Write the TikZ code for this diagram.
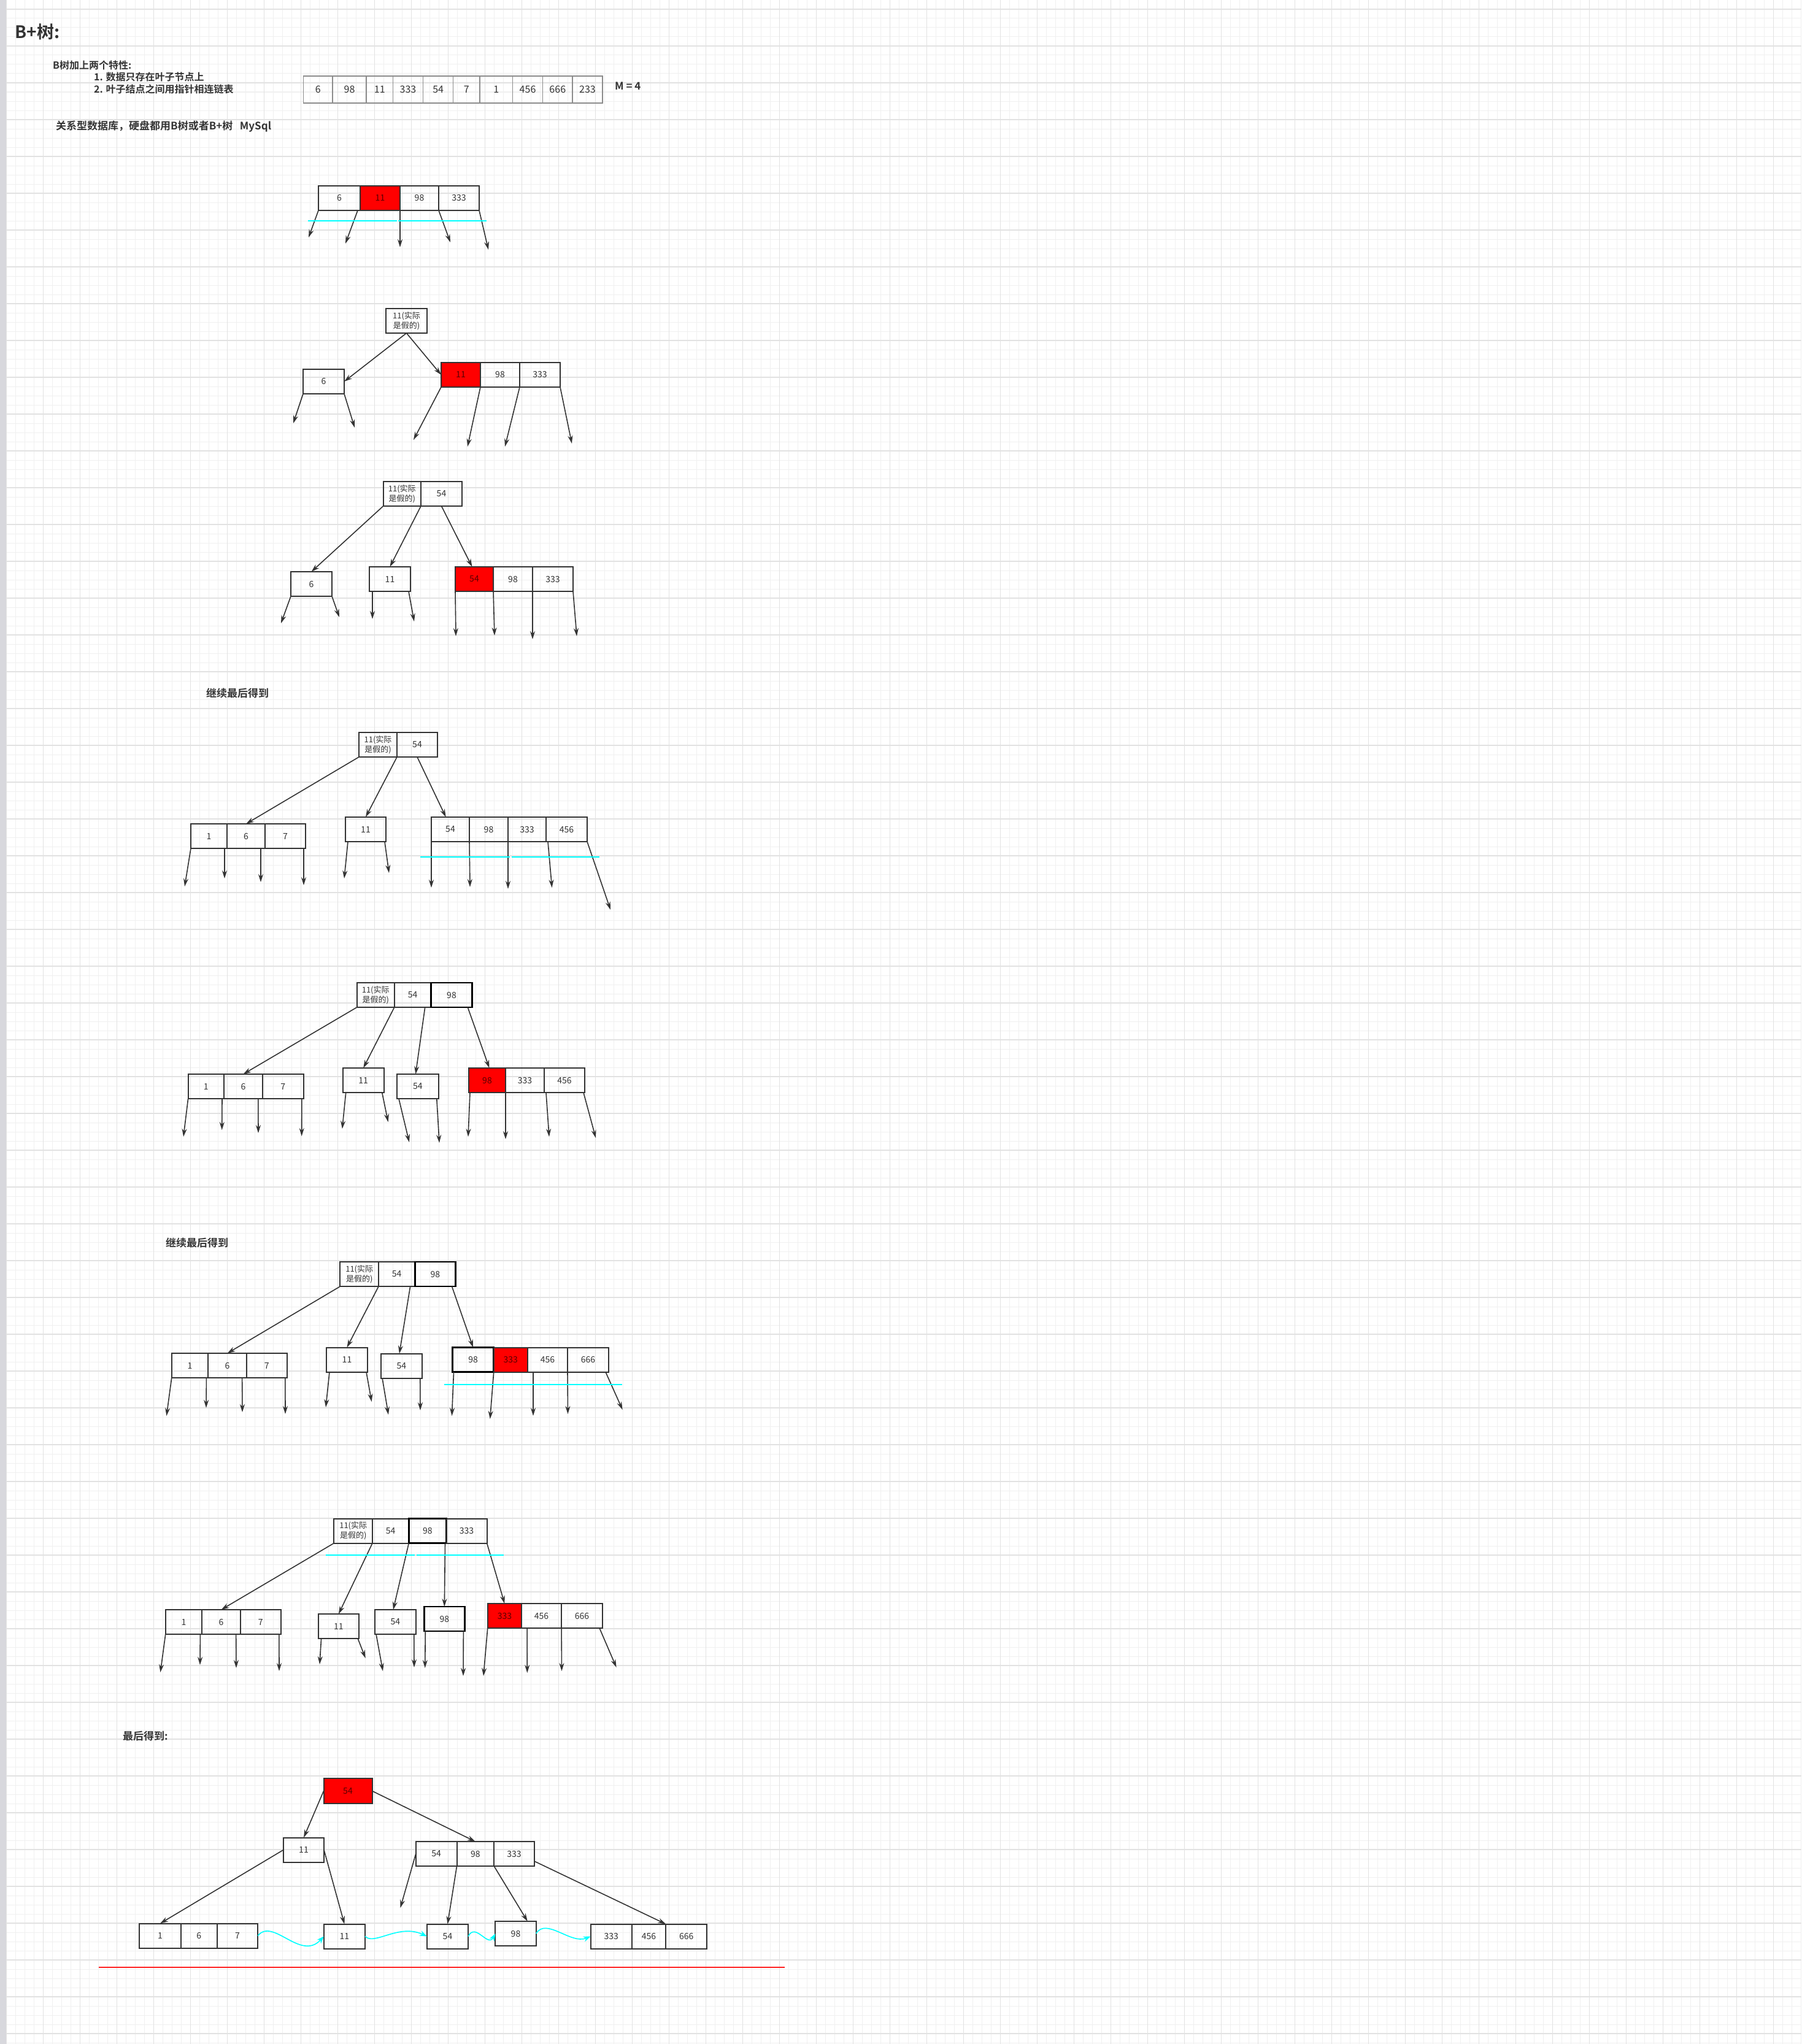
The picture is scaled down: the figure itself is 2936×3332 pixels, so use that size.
\documentclass[tikz,border=0pt]{standalone}
\usepackage{fontspec}
\setmainfont{Noto Sans CJK SC}[BoldFont={Noto Sans CJK SC Bold}]
\usetikzlibrary{arrows.meta,positioning,calc}
\definecolor{linec}{HTML}{333333}
\definecolor{txtc}{HTML}{333333}
\definecolor{hotred}{HTML}{FF0000}
\definecolor{cyanl}{HTML}{00FFFF}
\definecolor{gridmin}{HTML}{F0F0F0}
\definecolor{gridmaj}{HTML}{E2E2E2}
\definecolor{strip}{HTML}{D8D8DD}
\definecolor{arrc}{HTML}{8C8C8C}
\definecolor{redline}{HTML}{FF2020}

\begin{document}
\begin{tikzpicture}[x=1pt,y=-1pt,
  cell/.style={draw=linec,line width=2pt,minimum height=40,inner sep=0pt,outer sep=0pt,text=txtc,font=\fontsize{14}{16}\selectfont},
  hot/.style={fill=hotred,text=red!35!black},
  blk/.style={draw=black,line width=2.6pt},
  two/.style={align=center,font=\fontsize{13}{16}\selectfont},
  arr/.style={draw=arrc,line width=1.3pt,minimum height=44,inner sep=0pt,outer sep=0pt,text=txtc,font=\fontsize{16}{18}\selectfont},
  note/.style={anchor=west,inner sep=0pt,text=txtc,font=\bfseries\fontsize{17}{20}\selectfont},
  ptr/.style={draw=linec,line width=1.6pt,-{Stealth[length=13pt,width=8pt]}},
  scan/.style={draw=cyanl,line width=1.6pt},
  wave/.style={draw=cyanl,line width=1.6pt,-{Stealth[length=12pt,width=9pt]}}]
\useasboundingbox (0,0) rectangle (2936,3332);
\fill[white] (0,0) rectangle (2936,3332);
\fill[strip] (0,0) rectangle (10.7,3332);
% grid
\foreach \gx in {10.7,25.7,...,2936} \draw[gridmin,line width=1pt] (\gx,0) -- (\gx,3332);
\foreach \gy in {0,15,...,3332} \draw[gridmin,line width=1pt] (10.7,\gy) -- (2936,\gy);
\foreach \gx in {10.7,70.7,...,2936} \draw[gridmaj,line width=1.4pt] (\gx,0) -- (\gx,3332);
\foreach \gy in {15,75,...,3332} \draw[gridmaj,line width=1.4pt] (10.7,\gy) -- (2936,\gy);

% notes
\node[note,font=\bfseries\fontsize{28}{32}\selectfont] (title) at (24.5,52) {B+树:};
\node[note,font=\bfseries\fontsize{16}{19}\selectfont] (feat) at (86,106.5) {B树加上两个特性:};
\node[note,font=\bfseries\fontsize{16}{19}\selectfont] (feat1) at (153,125.5) {1. 数据只存在叶子节点上};
\node[note,font=\bfseries\fontsize{16}{19}\selectfont] (feat2) at (153,145.5) {2. 叶子结点之间用指针相连链表};
\node[note] (db) at (91,206.5) {关系型数据库，硬盘都用B树或者B+树~~~MySql};
\node[note] (order) at (1002,140) {M = 4};

% input keys
\node[arr,minimum width=47.5] (m1) at (518.25,146) {6};
\node[arr,minimum width=55,right=0pt of m1] (m2) {98};
\node[arr,minimum width=43.5,right=0pt of m2] (m3) {11};
\node[arr,minimum width=49.1,right=0pt of m3] (m4) {333};
\node[arr,minimum width=49.1,right=0pt of m4] (m5) {54};
\node[arr,minimum width=43.3,right=0pt of m5] (m6) {7};
\node[arr,minimum width=53.5,right=0pt of m6] (m7) {1};
\node[arr,minimum width=49.1,right=0pt of m7] (m8) {456};
\node[arr,minimum width=48.4,right=0pt of m8] (m9) {666};
\node[arr,minimum width=49,right=0pt of m9] (m10) {233};

% step 1
\node[cell,minimum width=68] (t1c1) at (553,323) {6};
\node[cell,hot,minimum width=65,right=0pt of t1c1] (t1c2) {11};
\node[cell,minimum width=63,right=0pt of t1c2] (t1c3) {98};
\node[cell,minimum width=66,right=0pt of t1c3] (t1c4) {333};
\coordinate (t1p1) at (503,387); \draw[ptr] (t1c1.south west) -- (t1p1);
\coordinate (t1p2) at (563,397); \draw[ptr] ([xshift=-4]t1c2.south west) -- (t1p2);
\coordinate (t1p3) at (652,403); \draw[ptr] (t1c3.south west) -- (t1p3);
\coordinate (t1p4) at (734,395); \draw[ptr] (t1c4.south west) -- (t1p4);
\coordinate (t1p5) at (796,407); \draw[ptr] (t1c4.south east) -- (t1p5);
\draw[scan] (502,360) -- (647,360);
\draw[scan] (649,360) -- (793,360);

% step 2
\node[cell,two,minimum width=67] (t2r) at (662.5,523) {11(实际\\是假的)};
\node[cell,minimum width=67] (t2a) at (527.5,622) {6};
\node[cell,hot,minimum width=64] (t2b1) at (751,611) {11};
\node[cell,minimum width=64,right=0pt of t2b1] (t2b2) {98};
\node[cell,minimum width=66,right=0pt of t2b2] (t2b3) {333};
\draw[ptr] (t2r.south) -- (t2a.east);
\draw[ptr] (t2r.south) -- (t2b1.west);
\coordinate (t2p1) at (478,690); \draw[ptr] (t2a.south west) -- (t2p1);
\coordinate (t2p2) at (578,697); \draw[ptr] (t2a.south east) -- (t2p2);
\coordinate (t2p3) at (674,717); \draw[ptr] (t2b1.south west) -- (t2p3);
\coordinate (t2p4) at (762,728); \draw[ptr] (t2b2.south west) -- (t2p4);
\coordinate (t2p5) at (823,728); \draw[ptr] (t2b3.south west) -- (t2p5);
\coordinate (t2p6) at (932,723); \draw[ptr] (t2b3.south east) -- (t2p6);

% step 3
\node[cell,two,minimum width=61.4] (t3r1) at (655.3,805) {11(实际\\是假的)};
\node[cell,minimum width=67,right=0pt of t3r1] (t3r2) {54};
\node[cell,minimum width=67] (t3a) at (507.5,952) {6};
\node[cell,minimum width=67] (t3b) at (635.5,944) {11};
\node[cell,hot,minimum width=62] (t3c1) at (773,944) {54};
\node[cell,minimum width=64,right=0pt of t3c1] (t3c2) {98};
\node[cell,minimum width=66,right=0pt of t3c2] (t3c3) {333};
\draw[ptr] (t3r1.south west) -- (t3a.north);
\draw[ptr] (t3r1.south east) -- (t3b.north);
\draw[ptr] (t3r2.south) -- (t3c1.100);
\coordinate (t3p1) at (458,1016); \draw[ptr] (t3a.south west) -- (t3p1);
\coordinate (t3p2) at (553,1006); \draw[ptr] (t3a.south east) -- (t3p2);
\coordinate (t3p3) at (607,1009); \draw[ptr] ([xshift=5]t3b.south west) -- (t3p3);
\coordinate (t3p4) at (675,1013); \draw[ptr] ([xshift=-3]t3b.south east) -- (t3p4);
\coordinate (t3p5) at (743,1037); \draw[ptr] (t3c1.south west) -- (t3p5);
\coordinate (t3p6) at (806,1036); \draw[ptr] (t3c2.south west) -- (t3p6);
\coordinate (t3p7) at (868,1042); \draw[ptr] (t3c3.south west) -- (t3p7);
\coordinate (t3p8) at (940,1037); \draw[ptr] (t3c3.south east) -- (t3p8);

% step 4
\node[note] (go1) at (336,1130) {继续最后得到};
\node[cell,two,minimum width=62] (t4r1) at (616,1214) {11(实际\\是假的)};
\node[cell,minimum width=66,right=0pt of t4r1] (t4r2) {54};
\node[cell,minimum width=59] (t4a1) at (340.5,1363) {1};
\node[cell,minimum width=62,right=0pt of t4a1] (t4a2) {6};
\node[cell,minimum width=66,right=0pt of t4a2] (t4a3) {7};
\node[cell,minimum width=66] (t4b) at (596,1352) {11};
\node[cell,minimum width=62] (t4c1) at (734,1352) {54};
\node[cell,minimum width=63,right=0pt of t4c1] (t4c2) {98};
\node[cell,minimum width=62,right=0pt of t4c2] (t4c3) {333};
\node[cell,minimum width=67,right=0pt of t4c3] (t4c4) {456};
\draw[ptr] (t4r1.south west) -- (t4a2.north);
\draw[ptr] (t4r1.south east) -- (t4b.north);
\draw[ptr] (t4r2.south) -- (t4c1.110);
\coordinate (t4p1) at (301,1445); \draw[ptr] (t4a1.south west) -- (t4p1);
\coordinate (t4p2) at (366,1432); \draw[ptr] ([xshift=-4]t4a2.south west) -- (t4p2);
\coordinate (t4p3) at (425,1438); \draw[ptr] ([xshift=-7]t4a3.south west) -- (t4p3);
\coordinate (t4p4) at (495,1443); \draw[ptr] ([xshift=-3]t4a3.south east) -- (t4p4);
\coordinate (t4p5) at (561,1432); \draw[ptr] ([xshift=4]t4b.south west) -- (t4p5);
\coordinate (t4p6) at (634,1423); \draw[ptr] ([xshift=-2]t4b.south east) -- (t4p6);
\coordinate (t4p7) at (703,1447); \draw[ptr] (t4c1.south west) -- (t4p7);
\coordinate (t4p8) at (766,1446); \draw[ptr] (t4c2.south west) -- (t4p8);
\coordinate (t4p9) at (828,1449); \draw[ptr] (t4c3.south west) -- (t4p9);
\coordinate (t4p10) at (899.6,1447); \draw[ptr] ([xshift=3]t4c4.south west) -- (t4p10);
\coordinate (t4p11) at (995,1483); \draw[ptr] (t4c4.south east) -- (t4p11);
\draw[scan] (685,1397) -- (831,1397);
\draw[scan] (833.6,1397) -- (977,1397);

% step 5
\node[cell,two,minimum width=61] (t5r1) at (612.2,1622) {11(实际\\是假的)};
\node[cell,minimum width=60,right=0pt of t5r1] (t5r2) {54};
\node[cell,blk,minimum width=66.6,right=0pt of t5r2] (t5r3) {98};
\node[cell,minimum width=58.4] (t5a1) at (335.8,1771) {1};
\node[cell,minimum width=62.8,right=0pt of t5a1] (t5a2) {6};
\node[cell,minimum width=67.1,right=0pt of t5a2] (t5a3) {7};
\node[cell,minimum width=67] (t5b) at (592.2,1761) {11};
\node[cell,minimum width=67.8] (t5c) at (680.9,1771) {54};
\node[cell,hot,minimum width=60] (t5d1) at (794,1761) {98};
\node[cell,minimum width=63,right=0pt of t5d1] (t5d2) {333};
\node[cell,minimum width=66,right=0pt of t5d2] (t5d3) {456};
\draw[ptr] (t5r1.south west) -- (t5a2.north);
\draw[ptr] (t5r1.south east) -- (t5b.north);
\draw[ptr] ([xshift=20]t5r2.south) -- (t5c.100);
\draw[ptr] ([xshift=-7]t5r3.south east) -- (t5d1.80);
\coordinate (t5p1) at (299,1853); \draw[ptr] (t5a1.south west) -- (t5p1);
\coordinate (t5p2) at (361.7,1842); \draw[ptr] ([xshift=-3]t5a2.south west) -- (t5p2);
\coordinate (t5p3) at (421,1847); \draw[ptr] ([xshift=-7]t5a3.south west) -- (t5p3);
\coordinate (t5p4) at (491.7,1852); \draw[ptr] ([xshift=-3]t5a3.south east) -- (t5p4);
\coordinate (t5p5) at (557.8,1840); \draw[ptr] ([xshift=5]t5b.south west) -- (t5p5);
\coordinate (t5p6) at (632.6,1829); \draw[ptr] ([xshift=-3]t5b.south east) -- (t5p6);
\coordinate (t5p7) at (667,1862); \draw[ptr] ([xshift=3]t5c.south west) -- (t5p7);
\coordinate (t5p8) at (716,1863); \draw[ptr] ([xshift=-3]t5c.south east) -- (t5p8);
\coordinate (t5p9) at (763,1853); \draw[ptr] ([xshift=2]t5d1.south west) -- (t5p9);
\coordinate (t5p10) at (824,1857); \draw[ptr] (t5d2.south west) -- (t5p10);
\coordinate (t5p11) at (895,1853); \draw[ptr] ([xshift=3]t5d3.south west) -- (t5p11);
\coordinate (t5p12) at (971,1855); \draw[ptr] ([xshift=-2]t5d3.south east) -- (t5p12);

% step 6
\node[note] (go2) at (270,2025.5) {继续最后得到};
\node[cell,two,minimum width=62.6] (t6r1) at (585.7,2077) {11(实际\\是假的)};
\node[cell,minimum width=59.3,right=0pt of t6r1] (t6r2) {54};
\node[cell,blk,minimum width=66.2,right=0pt of t6r2] (t6r3) {98};
\node[cell,minimum width=59.7] (t6a1) at (309.6,2226) {1};
\node[cell,minimum width=62.2,right=0pt of t6a1] (t6a2) {6};
\node[cell,minimum width=66.2,right=0pt of t6a2] (t6a3) {7};
\node[cell,minimum width=67] (t6b) at (565.5,2216.5) {11};
\node[cell,minimum width=66.7] (t6c) at (654.4,2226.5) {54};
\node[cell,blk,minimum width=67.2] (t6d1) at (771.1,2216.5) {98};
\node[cell,hot,minimum width=55.3,right=0pt of t6d1] (t6d2) {333};
\node[cell,minimum width=65,right=0pt of t6d2] (t6d3) {456};
\node[cell,minimum width=67,right=0pt of t6d3] (t6d4) {666};
\draw[ptr] (t6r1.south west) -- (t6a2.north);
\draw[ptr] (t6r1.south east) -- (t6b.north);
\draw[ptr] ([xshift=22]t6r2.south) -- (t6c.100);
\draw[ptr] ([xshift=-6]t6r3.south east) -- (t6d1.north);
\coordinate (t6p1) at (271.4,2308); \draw[ptr] (t6a1.south west) -- (t6p1);
\coordinate (t6p2) at (336,2295); \draw[ptr] ([xshift=-3]t6a2.south west) -- (t6p2);
\coordinate (t6p3) at (395,2302); \draw[ptr] ([xshift=-7]t6a3.south west) -- (t6p3);
\coordinate (t6p4) at (465,2305); \draw[ptr] ([xshift=-3]t6a3.south east) -- (t6p4);
\coordinate (t6p5) at (531,2294); \draw[ptr] ([xshift=5]t6b.south west) -- (t6p5);
\coordinate (t6p6) at (605.7,2285); \draw[ptr] ([xshift=-2]t6b.south east) -- (t6p6);
\coordinate (t6p7) at (633,2306); \draw[ptr] ([xshift=2]t6c.south west) -- (t6p7);
\coordinate (t6p8) at (685,2299); \draw[ptr] ([xshift=-3]t6c.south east) -- (t6p8);
\coordinate (t6p9) at (736.5,2308); \draw[ptr] ([xshift=2]t6d1.south west) -- (t6p9);
\coordinate (t6p10) at (798.7,2313); \draw[ptr] (t6d2.south west) -- (t6p10);
\coordinate (t6p11) at (869,2308); \draw[ptr] ([xshift=9]t6d3.south west) -- (t6p11);
\coordinate (t6p12) at (925.5,2305); \draw[ptr] (t6d4.south west) -- (t6p12);
\coordinate (t6p13) at (1014.6,2298); \draw[ptr] ([xshift=-5]t6d4.south east) -- (t6p13);
\draw[scan] (723.6,2257) -- (1013.6,2257);

% step 7
\node[cell,two,minimum width=62.6] (t7r1) at (575.7,2495.5) {11(实际\\是假的)};
\node[cell,minimum width=59.3,right=0pt of t7r1] (t7r2) {54};
\node[cell,blk,minimum width=61.2,right=0pt of t7r2] (t7r3) {98};
\node[cell,minimum width=66.1,right=0pt of t7r3] (t7r4) {333};
\node[cell,minimum width=59.7] (t7a1) at (299.6,2644) {1};
\node[cell,minimum width=62.2,right=0pt of t7a1] (t7a2) {6};
\node[cell,minimum width=66.2,right=0pt of t7a2] (t7a3) {7};
\node[cell,minimum width=66.6] (t7b) at (551.9,2651) {11};
\node[cell,minimum width=66.7] (t7c) at (644.4,2644) {54};
\node[cell,blk,minimum width=66.1] (t7d) at (724.3,2639) {98};
\node[cell,hot,minimum width=55.3] (t7e1) at (822.4,2634) {333};
\node[cell,minimum width=65,right=0pt of t7e1] (t7e2) {456};
\node[cell,minimum width=67,right=0pt of t7e2] (t7e3) {666};
\draw[ptr] (t7r1.south west) -- (t7a2.north);
\draw[ptr] (t7r1.south east) -- (t7b.north);
\draw[ptr] (t7r3.south west) -- (t7c.100);
\draw[ptr] ([xshift=-2]t7r3.south east) -- (t7d.north);
\draw[ptr] (t7r4.south east) -- (t7e1.north);
\coordinate (t7p1) at (261.4,2726); \draw[ptr] (t7a1.south west) -- (t7p1);
\coordinate (t7p2) at (326,2714); \draw[ptr] ([xshift=-3]t7a2.south west) -- (t7p2);
\coordinate (t7p3) at (385,2719); \draw[ptr] ([xshift=-7]t7a3.south west) -- (t7p3);
\coordinate (t7p4) at (455,2724); \draw[ptr] ([xshift=-3]t7a3.south east) -- (t7p4);
\coordinate (t7p5) at (521,2713); \draw[ptr] ([xshift=5]t7b.south west) -- (t7p5);
\coordinate (t7p6) at (595.7,2703); \draw[ptr] ([xshift=-2]t7b.south east) -- (t7p6);
\coordinate (t7p7) at (624,2724); \draw[ptr] ([xshift=2]t7c.south west) -- (t7p7);
\coordinate (t7p8) at (675,2718); \draw[ptr] ([xshift=-3]t7c.south east) -- (t7p8);
\coordinate (t7p9) at (692.7,2719); \draw[ptr] ([xshift=2]t7d.south west) -- (t7p9);
\coordinate (t7p10) at (755,2732); \draw[ptr] ([xshift=-2]t7d.south east) -- (t7p10);
\coordinate (t7p11) at (788,2732); \draw[ptr] (t7e1.south west) -- (t7p11);
\coordinate (t7p12) at (859.3,2727); \draw[ptr] ([xshift=9]t7e2.south west) -- (t7p12);
\coordinate (t7p13) at (915.5,2724); \draw[ptr] (t7e3.south west) -- (t7p13);
\coordinate (t7p14) at (1004.6,2718); \draw[ptr] ([xshift=-5]t7e3.south east) -- (t7p14);
\draw[scan] (531,2535) -- (675.8,2535);
\draw[scan] (679,2535) -- (821,2535);

% final tree
\node[note] (done) at (200,2830) {最后得到:};
\node[cell,hot,minimum width=79,minimum height=41] (fr) at (567,2919.5) {54};
\node[cell,minimum width=66] (f1) at (495,3015.5) {11};
\node[cell,minimum width=66.8] (fb1) at (711.1,3022) {54};
\node[cell,minimum width=60.7,right=0pt of fb1] (fb2) {98};
\node[cell,minimum width=65.5,right=0pt of fb2] (fb3) {333};
\node[cell,minimum width=67.4] (l1a) at (261,3155.5) {1};
\node[cell,minimum width=59.3,right=0pt of l1a] (l1b) {6};
\node[cell,minimum width=66.2,right=0pt of l1b] (l1c) {7};
\node[cell,minimum width=67.3] (l2) at (561.4,3156.5) {11};
\node[cell,minimum width=67.2] (l3) at (729.5,3156.5) {54};
\node[cell,minimum width=66.4] (l4) at (840.5,3152) {98};
\node[cell,minimum width=67.2] (l5a) at (996.2,3156.5) {333};
\node[cell,minimum width=55.5,right=0pt of l5a] (l5b) {456};
\node[cell,minimum width=66.7,right=0pt of l5b] (l5c) {666};
\draw[ptr] (fr.west) -- (f1.north);
\draw[ptr] (fr.east) -- (fb2.north);
\draw[ptr] (f1.west) -- (l1a.north);
\draw[ptr] (f1.east) -- (l2.north);
\coordinate (fp1) at (652.5,3110); \draw[ptr] (fb1.west) -- (fp1);
\draw[ptr] (fb1.south east) -- (l3.north);
\draw[ptr] (fb3.south west) -- (l4.46);
\draw[ptr] (fb3.-20) -- (l5b.north east);
\draw[wave] (l1c.east) .. controls (445,3125) and (490,3198) .. (l2.west);
\draw[wave] (l2.east) .. controls (610,3172) and (650,3135) .. (l3.west);
\draw[wave] (l3.east) .. controls (775,3133) and (795,3175) .. (l4.west);
\draw[wave] (l4.east) .. controls (890,3125) and (930,3170) .. (l5a.west);
\draw[redline,line width=2pt] (160.7,3207) -- (1279,3207);
\end{tikzpicture}
\end{document}
